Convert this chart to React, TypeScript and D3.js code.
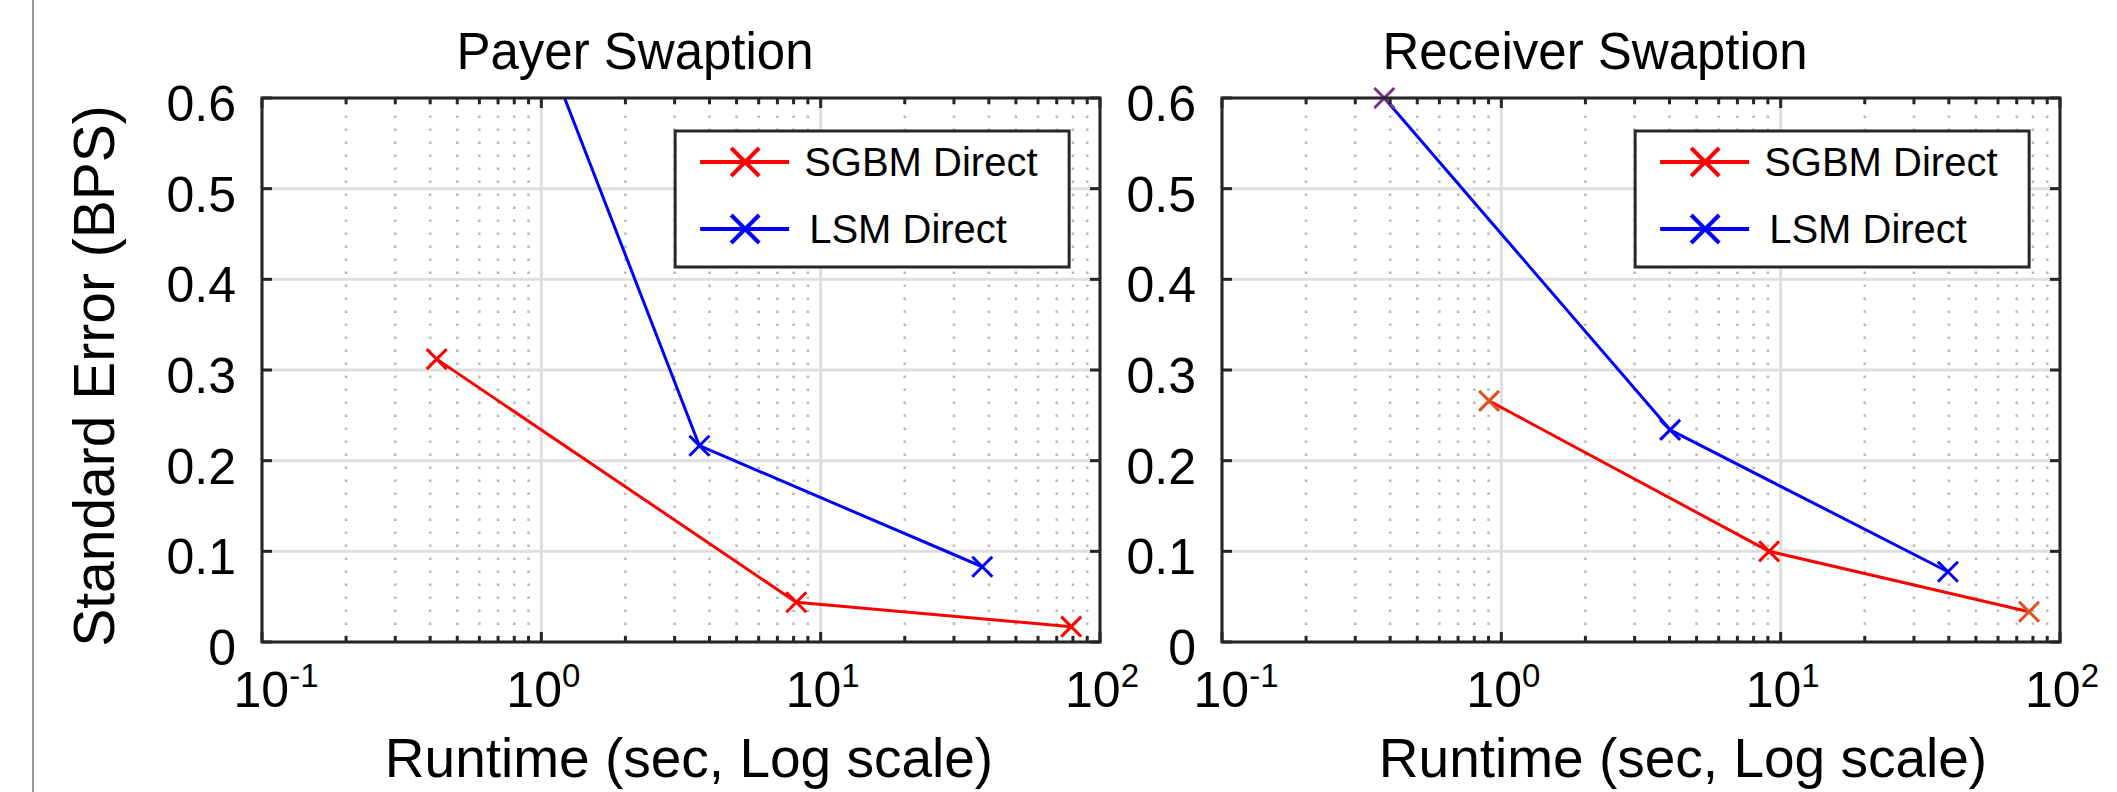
import { useMemo } from "react";
import * as d3 from "d3";

// runtimes (sec) and standard errors (bps)
const payerSgbmRuntime = [0.422, 8.18, 78.9];
const payerSgbmError = [0.312, 0.0438, 0.0169];
const payerLsmRuntime = [0.38, 3.68, 37.9];
const payerLsmError = [1.0, 0.2165, 0.083];

const receiverSgbmRuntime = [0.904, 9.09, 77.5];
const receiverSgbmError = [0.266, 0.1, 0.0334];
const receiverLsmRuntime = [0.381, 4.02, 39.7];
const receiverLsmError = [0.6, 0.234, 0.0775];

const seriesNames = ["SGBM Direct", "LSM Direct"];
const titles = ["Payer Swaption", "Receiver Swaption"];
const yTicks = [0, 0.1, 0.2, 0.3, 0.4, 0.5, 0.6];
const xDomain = [0.1, 100];
const yDomain = [0, 0.6];

const RED = "#ff0000";
const BLUE = "#0000ff";
const AXIS = "#262626";
const FONT = "'Liberation Sans', Arial, Helvetica, sans-serif";

// a few markers in the receiver panel came out in other colours
const receiverMarkerTint = { sgbm: { 0: "#e0501c", 2: "#e0501c" }, lsm: { 0: "#7e2f8e" } };

type Series = { name: string; color: string; x: number[]; y: number[]; tint?: Record<number, string> };

function Panel({ id, left, right, title, titleX, xLabelX, series, showYLabel }: {
  id: string; left: number; right: number; title: string; titleX: number; xLabelX: number;
  series: Series[]; showYLabel: boolean;
}) {
  const top = 98, bottom = 642;
  const x = d3.scaleLog().domain(xDomain).range([left, right]);
  const y = d3.scaleLinear().domain(yDomain).range([bottom, top]);
  const allX = x.ticks();
  const majors = allX.filter((v) => Math.abs(Math.log10(v) - Math.round(Math.log10(v))) < 1e-9);
  const minors = allX.filter((v) => !majors.includes(v));
  const line = d3.line<[number, number]>().x((d) => x(d[0])).y((d) => y(d[1]));
  const fmt = d3.format(".1~f");
  const arm = 10;

  const legX = left + (right - left) * 0.493;
  const legW = 394, legY = 131, legH = 136;

  return (
    <g>
      <defs>
        <clipPath id={id}>
          <rect x={left} y={top} width={right - left} height={bottom - top} />
        </clipPath>
      </defs>
      <rect x={left} y={top} width={right - left} height={bottom - top} fill="#fff" />
      {minors.map((v) => (
        <line key={"m" + v} x1={x(v)} x2={x(v)} y1={bottom} y2={top} stroke="#b8b8b8"
          strokeWidth={2.5} strokeDasharray="2.5 10.5" strokeDashoffset={-4} />
      ))}
      {majors.map((v) => (
        <line key={"M" + v} x1={x(v)} x2={x(v)} y1={bottom} y2={top} stroke="#dedede" strokeWidth={3} />
      ))}
      {yTicks.map((v) => (
        <line key={"y" + v} x1={left} x2={right} y1={y(v)} y2={y(v)} stroke="#dedede" strokeWidth={3} />
      ))}

      <g clipPath={`url(#${id})`}>
        {series.map((s) => (
          <path key={s.name} d={line(s.x.map((v, i) => [v, s.y[i]]) as [number, number][]) || ""}
            fill="none" stroke={s.color} strokeWidth={3} strokeLinejoin="round" />
        ))}
      </g>
      {series.map((s) =>
        s.x.map((v, i) => {
          if (s.y[i] > yDomain[1] + 1e-9) return null;
          const cx = x(v), cy = y(s.y[i]);
          const c = (s.tint && s.tint[i]) || s.color;
          return (
            <path key={s.name + i} d={`M${cx - arm},${cy - arm}L${cx + arm},${cy + arm}M${cx - arm},${cy + arm}L${cx + arm},${cy - arm}`}
              stroke={c} strokeWidth={3} />
          );
        })
      )}

      {/* ticks */}
      {minors.map((v) => (
        <g key={"tm" + v}>
          <line x1={x(v)} x2={x(v)} y1={bottom} y2={bottom - 6} stroke={AXIS} strokeWidth={3} />
          <line x1={x(v)} x2={x(v)} y1={top} y2={top + 6} stroke={AXIS} strokeWidth={3} />
        </g>
      ))}
      {majors.map((v) => (
        <g key={"tM" + v}>
          <line x1={x(v)} x2={x(v)} y1={bottom} y2={bottom - 10} stroke={AXIS} strokeWidth={3} />
          <line x1={x(v)} x2={x(v)} y1={top} y2={top + 10} stroke={AXIS} strokeWidth={3} />
        </g>
      ))}
      {yTicks.map((v) => (
        <g key={"ty" + v}>
          <line x1={left} x2={left + 10} y1={y(v)} y2={y(v)} stroke={AXIS} strokeWidth={3} />
          <line x1={right} x2={right - 10} y1={y(v)} y2={y(v)} stroke={AXIS} strokeWidth={3} />
        </g>
      ))}
      <rect x={left} y={top} width={right - left} height={bottom - top} fill="none" stroke={AXIS} strokeWidth={3} />

      {/* tick labels */}
      {yTicks.map((v) => (
        <text key={"ly" + v} x={left - 26} y={y(v) + 23} textAnchor="end" fontSize={50} fontFamily={FONT} fill="#000">
          {fmt(v)}
        </text>
      ))}
      {majors.map((v) => (
        <text key={"lx" + v} x={x(v) + (v < 1 ? 14 : 2)} y={707} textAnchor="middle" fontSize={50} fontFamily={FONT} fill="#000">
          <tspan>10</tspan>
          <tspan dy={-20} fontSize={33}>{String(Math.round(Math.log10(v)))}</tspan>
        </text>
      ))}

      <text x={titleX} y={69} textAnchor="middle" fontSize={51} fontFamily={FONT} fill="#000">{title}</text>
      <text x={xLabelX} y={777} textAnchor="middle" fontSize={55} fontFamily={FONT} fill="#000">
        Runtime (sec, Log scale)
      </text>
      {showYLabel && (
        <text transform={`translate(114,376) rotate(-90)`} textAnchor="middle" fontSize={57} fontFamily={FONT} fill="#000">
          Standard Error (BPS)
        </text>
      )}

      {/* legend */}
      <g transform={`translate(${legX},${legY})`}>
        <rect x={0} y={0} width={legW} height={legH} fill="#fff" stroke={AXIS} strokeWidth={3} />
        {series.map((s, i) => {
          const ly = 31 + i * 67;
          return (
            <g key={"lg" + s.name}>
              <line x1={25} x2={114} y1={ly} y2={ly} stroke={s.color} strokeWidth={4} />
              <path d={`M${70 - 14},${ly - 14}L${70 + 14},${ly + 14}M${70 - 14},${ly + 14}L${70 + 14},${ly - 14}`}
                stroke={s.color} strokeWidth={4} />
              <text x={129 + i * 5} y={ly + 14} fontSize={40} fontFamily={FONT} fill="#000">{s.name}</text>
            </g>
          );
        })}
      </g>
    </g>
  );
}

export default function App() {
  const payer: Series[] = useMemo(() => [
    { name: seriesNames[0], color: RED, x: payerSgbmRuntime, y: payerSgbmError },
    { name: seriesNames[1], color: BLUE, x: payerLsmRuntime, y: payerLsmError },
  ], []);
  const receiver: Series[] = useMemo(() => [
    { name: seriesNames[0], color: RED, x: receiverSgbmRuntime, y: receiverSgbmError, tint: receiverMarkerTint.sgbm },
    { name: seriesNames[1], color: BLUE, x: receiverLsmRuntime, y: receiverLsmError, tint: receiverMarkerTint.lsm },
  ], []);

  return (
    <svg width={2117} height={792} style={{ position: "absolute", left: 0, top: 0, background: "#fff" }}>
      <rect width={2117} height={792} fill="#fff" />
      <line x1={33} x2={33} y1={0} y2={792} stroke="#999" strokeWidth={2} />
      <Panel id="clipPayer" left={262} right={1100} title={titles[0]} titleX={635} xLabelX={689}
        series={payer} showYLabel={true} />
      <Panel id="clipReceiver" left={1222} right={2060} title={titles[1]} titleX={1595} xLabelX={1683}
        series={receiver} showYLabel={false} />
    </svg>
  );
}
